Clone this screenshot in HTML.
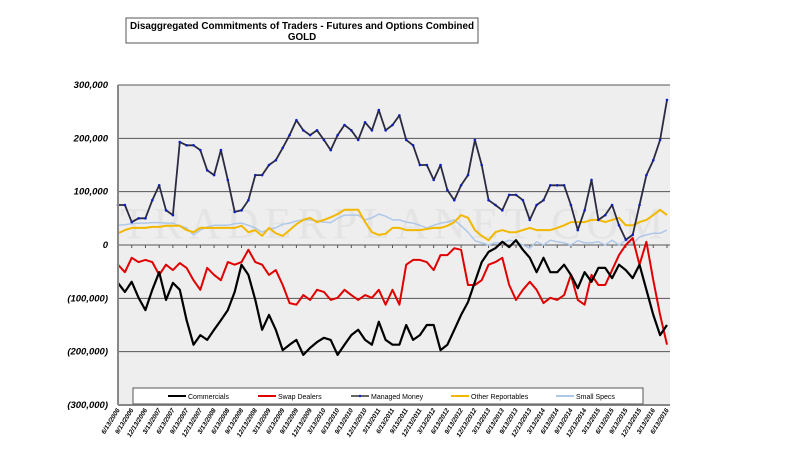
<!DOCTYPE html>
<html><head><meta charset="utf-8">
<style>
body{margin:0;background:#fff;width:800px;height:450px;overflow:hidden;font-family:"Liberation Sans",Arial,sans-serif;}
svg{display:block}
</style></head>
<body>
<svg id="chart" width="800" height="450" xmlns="http://www.w3.org/2000/svg">
  <rect x="118" y="85" width="552" height="320" fill="#eeeeee"/>
  <g id="grid"></g>
  <g id="ylabels"></g>
  <g id="xlabels"></g>
  <text x="395" y="238" font-family="Liberation Serif" font-size="44" fill="#dadada" fill-opacity="0.5" text-anchor="middle" letter-spacing="6">TRADERPLANET.COM</text>
  <g id="series"></g>
  <line x1="118" y1="85" x2="118" y2="405" stroke="#888" stroke-width="2"/>
  <line x1="118" y1="405" x2="670" y2="405" stroke="#888" stroke-width="2"/>
  <g>
    <rect x="126" y="18" width="352" height="25" fill="#fff" stroke="#555" stroke-width="1"/>
    <text x="302" y="29" font-size="9.8" font-weight="bold" text-anchor="middle" textLength="344" lengthAdjust="spacingAndGlyphs">Disaggregated Commitments of Traders - Futures and Options Combined</text>
    <text x="302" y="40" font-size="9.8" font-weight="bold" text-anchor="middle">GOLD</text>
  </g>
  <g>
    <rect x="133" y="388" width="510" height="16" fill="#fff" stroke="#555"/>
    <g><line x1="168" y1="396" x2="186" y2="396" stroke="#000" stroke-width="2"/><text x="188" y="399" font-size="7">Commercials</text></g>
    <g><line x1="258" y1="396" x2="276" y2="396" stroke="#e00000" stroke-width="2"/><text x="278" y="399" font-size="7">Swap Dealers</text></g>
    <g><line x1="351" y1="396" x2="369" y2="396" stroke="#333" stroke-width="1.5"/><circle cx="360" cy="396" r="1.2" fill="#1020c0"/><text x="371" y="399" font-size="7">Managed Money</text></g>
    <g><line x1="451" y1="396" x2="469" y2="396" stroke="#f2b800" stroke-width="2"/><text x="471" y="399" font-size="7">Other Reportables</text></g>
    <g><line x1="556" y1="396" x2="574" y2="396" stroke="#b0c8e8" stroke-width="2"/><text x="576" y="399" font-size="7">Small Specs</text></g>
  </g>
</svg>
<script>
const yTicks=[300,200,100,0,-100,-200,-300];
const yTickLabels=["300,000","200,000","100,000","0","(100,000)","(200,000)","(300,000)"];
const xTickLabels=["6/13/2006","9/13/2006","12/13/2006","3/13/2007","6/13/2007","9/13/2007","12/13/2007","3/13/2008","6/13/2008","9/13/2008","12/13/2008","3/13/2009","6/13/2009","9/13/2009","12/13/2009","3/13/2010","6/13/2010","9/13/2010","12/13/2010","3/13/2011","6/13/2011","9/13/2011","12/13/2011","3/13/2012","6/13/2012","9/13/2012","12/13/2012","3/13/2013","6/13/2013","9/13/2013","12/13/2013","3/13/2014","6/13/2014","9/13/2014","12/13/2014","3/13/2015","6/13/2015","9/13/2015","12/13/2015","3/13/2016","6/13/2016"];
const smallSpecs=[37,38,40,41,41,42,42,41,41,36,32,19,28,34,37,37,37,40,41,37,32,24,30,32,39,41,45,47,47,45,43,42,50,56,56,56,47,51,58,54,47,47,43,41,37,32,37,41,43,47,36,24,8,4,0,4,4,9,6,0,-6,6,0,9,6,4,0,8,4,4,6,0,9,0,9,2,15,19,22,22,28];
const otherReportables=[22,28,32,32,32,34,34,36,36,36,28,24,32,32,32,32,32,32,36,24,28,17,32,22,17,28,39,47,51,43,47,52,58,66,66,66,43,24,19,21,32,32,28,28,28,30,32,32,36,43,56,51,28,17,9,24,28,24,24,28,32,28,28,28,32,37,43,43,43,47,47,43,47,51,37,37,43,47,56,66,56];
const swapDealers=[-37,-51,-24,-32,-28,-32,-56,-37,-47,-34,-43,-66,-84,-43,-56,-66,-32,-37,-32,-9,-32,-37,-56,-47,-75,-109,-112,-94,-103,-84,-88,-103,-99,-84,-94,-103,-94,-99,-84,-112,-84,-112,-37,-28,-28,-32,-47,-19,-19,-6,-9,-75,-75,-66,-37,-32,-24,-75,-103,-84,-69,-84,-109,-99,-103,-94,-56,-103,-112,-56,-75,-75,-47,-19,0,13,-37,6,-66,-131,-187];
const commercials=[-71,-88,-69,-99,-122,-84,-51,-103,-71,-84,-141,-187,-169,-178,-159,-141,-122,-88,-37,-56,-103,-159,-131,-159,-197,-187,-178,-206,-193,-182,-174,-178,-206,-187,-169,-159,-178,-187,-144,-178,-187,-187,-150,-178,-169,-150,-150,-197,-187,-159,-131,-107,-69,-32,-13,-6,6,-4,9,-9,-24,-51,-24,-51,-51,-37,-56,-81,-51,-69,-43,-43,-62,-37,-47,-62,-37,-84,-131,-169,-150];
const managedMoney=[75,75,43,50,50,84,112,65,56,193,187,187,178,140,131,178,122,62,65,84,131,131,150,159,182,206,234,215,206,215,197,178,206,225,215,197,230,215,253,215,225,243,197,187,150,150,122,150,103,84,112,131,197,150,84,75,65,94,94,84,47,75,84,112,112,112,75,28,65,122,47,56,75,37,10,19,75,131,159,197,272];

const NS="http://www.w3.org/2000/svg";
const X0=118,X1=667,YT=85,YB=405;
function xs(i,n){return X0+(X1-X0)*i/(n-1);}
function ys(v){return YB-(v+300)/600*(YB-YT);}
function mk(t,a){const e=document.createElementNS(NS,t);for(const k in a)e.setAttribute(k,a[k]);return e;}
const grid=document.getElementById('grid'),yl=document.getElementById('ylabels'),xl=document.getElementById('xlabels'),sg=document.getElementById('series');
yTicks.forEach((v,i)=>{
  if(v!==-300){const l=mk('line',{x1:118,x2:670,y1:ys(v),y2:ys(v),stroke:'#555','stroke-width':1});
  
  
  grid.appendChild(l);}
  const t=mk('text',{x:108,y:ys(v)+3,'font-size':'9.5','font-weight':'bold','font-style':'italic','text-anchor':'end'});
  
  
  t.textContent=yTickLabels[i];yl.appendChild(t);
});
xTickLabels.forEach((s,i)=>{
  const x=X0+(X1-X0)*i/(xTickLabels.length-1);
  const tk=mk('line',{x1:x,x2:x,y1:ys(0),y2:ys(0)+3,stroke:'#555'});
  
  
  grid.appendChild(tk);
  const t=mk('text',{x:x+2,y:410,'font-size':'6.5','font-weight':'bold','font-style':'italic','text-anchor':'end',transform:`rotate(-58 ${x+2} 410)`});
  
  
  t.textContent=s;xl.appendChild(t);
});
function line(data,color,w,name){
  const d=data.map((v,i)=>(i?'L':'M')+xs(i,data.length).toFixed(1)+' '+ys(v).toFixed(1)).join(' ');
  const p=mk('path',{d:d,fill:'none',stroke:color,'stroke-width':w,'stroke-linejoin':'round'});
  
  
  sg.appendChild(p);
}
line(smallSpecs,'#b0c8e8',1.5,'series-small-specs');
line(otherReportables,'#f2b800',2,'series-other-reportables');
line(swapDealers,'#e00000',2,'series-swap-dealers');
line(commercials,'#000',2.2,'series-commercials');
line(managedMoney,'#2a2a40',1.8,'series-managed-money');
managedMoney.forEach((v,i)=>{
  const c=mk('circle',{cx:xs(i,managedMoney.length),cy:ys(v),r:1.3,fill:'#1020c0'});
  
  
  sg.appendChild(c);
});
</script>
</body></html>
